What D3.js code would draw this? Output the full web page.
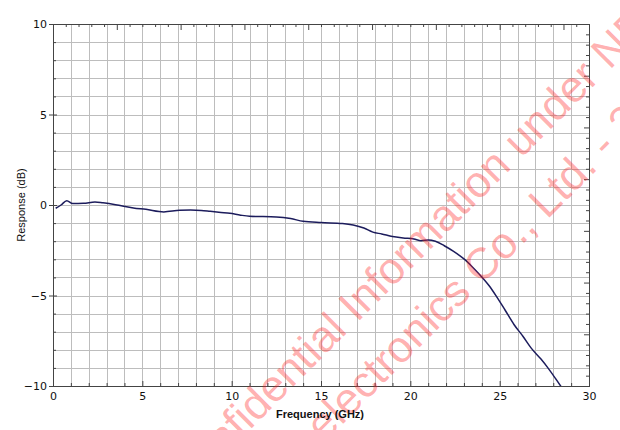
<!DOCTYPE html>
<html>
<head>
<meta charset="utf-8">
<script src="https://cdn.jsdelivr.net/npm/d3@7"></script>
<style>
  body { margin: 0; background: #fff; }
  svg { display: block; }
  .tick text { font-family: "DejaVu Sans", Verdana, sans-serif; font-size: 11px; fill: #111; }
</style>
</head>
<body>
<div id="chart"></div>
<script>
// frequency points (GHz)
const freqGHz = [0.15, 0.45, 0.77, 1.1, 1.7, 2.35, 2.8, 3.5, 4.5, 5.2, 6.2, 7.1, 7.7,
  8.3, 8.8, 9.4, 9.9, 10.5, 11.0, 12.5, 13.3, 14.0, 15.0, 16.2, 16.8, 17.4, 17.9,
  18.4, 19.0, 19.6, 20.2, 20.6, 21.0, 21.4, 21.9, 22.4, 23.0, 23.5, 23.9, 24.4,
  24.8, 25.3, 25.8, 26.3, 26.8, 27.3, 27.7, 28.1, 28.45];
// response at each frequency (dB)
const responseDb = [-0.18, 0.0, 0.24, 0.08, 0.09, 0.17, 0.12, 0.02, -0.16, -0.24, -0.38, -0.29, -0.28,
  -0.3, -0.35, -0.41, -0.46, -0.56, -0.62, -0.66, -0.75, -0.9, -0.97, -1.02, -1.1, -1.27, -1.5,
  -1.6, -1.74, -1.82, -1.88, -1.97, -1.93, -2.0, -2.25, -2.55, -2.98, -3.45, -3.87, -4.45,
  -5.02, -5.8, -6.6, -7.25, -7.95, -8.5, -9.0, -9.55, -10.05];

const xTicks = [0, 5, 10, 15, 20, 25, 30];
const yTicks = [-10, -5, 0, 5, 10];
const xTitle = "Frequency (GHz)";
const yTitle = "Response (dB)";
// watermark: [text before anchor, text after anchor]
const watermarkLines = [["Confidential ", "Information under NDA"], ["", "electronics Co., Ltd. - 2019"]];

const width = 620, height = 430;
const margin = { top: 24, right: 31, bottom: 44, left: 53 };
const w = width - margin.left - margin.right,
  h = height - margin.top - margin.bottom;

const svg = d3.select("#chart").append("svg")
  .attr("width", width).attr("height", height);

const g = svg.append("g")
  .attr("transform", "translate(" + margin.left + "," + margin.top + ")");

const x = d3.scaleLinear().domain([0, 30]).range([0, w]);
const y = d3.scaleLinear().domain([-10, 10]).range([h, 0]);
// unlabeled scales that only drive the tick marks on the top and right frame
const xTop = d3.scaleLinear().domain([0, 42]).range([0, w]);
const yRight = d3.scaleLinear().domain([0, 35]).range([h, 0]);

g.append("clipPath").attr("id", "clip")
  .append("rect").attr("width", w).attr("height", h);

// grid
g.append("g").selectAll("line")
  .data(d3.range(1, 30))
  .join("line")
  .attr("x1", d => Math.round(x(d)) + 0.5).attr("x2", d => Math.round(x(d)) + 0.5)
  .attr("y1", 0).attr("y2", h)
  .attr("stroke", "#bdbdbd");
g.append("g").selectAll("line")
  .data(d3.range(-9, 10))
  .join("line")
  .attr("y1", d => Math.round(y(d)) + 0.5).attr("y2", d => Math.round(y(d)) + 0.5)
  .attr("x1", 0).attr("x2", w)
  .attr("stroke", "#bdbdbd");

// watermark, each line anchored at a point on the page
const wmAnchors = [[357, 323], [324, 443]];
const wm = svg.append("g");
watermarkLines.forEach((parts, i) => {
  const lg = wm.append("g")
    .attr("transform", "translate(" + wmAnchors[i][0] + "," + wmAnchors[i][1] + ") rotate(-45)");
  lg.selectAll("text")
    .data(parts)
    .join("text")
    .attr("text-anchor", (d, j) => j === 0 ? "end" : "start")
    .attr("xml:space", "preserve")
    .style("white-space", "pre")
    .attr("font-family", "Liberation Sans, Arial, sans-serif")
    .attr("font-size", 44)
    .attr("fill", "#ff2020")
    .attr("fill-opacity", 0.36)
    .text(d => d);
});

// trace
const line = d3.line()
  .x((d, i) => x(freqGHz[i]))
  .y(d => y(d))
  .curve(d3.curveMonotoneX);
g.append("path")
  .datum(responseDb)
  .attr("clip-path", "url(#clip)")
  .attr("fill", "none")
  .attr("stroke", "#1c1c5c")
  .attr("stroke-width", 1.5)
  .attr("d", line);

// frame
g.append("rect").attr("x", 0.5).attr("y", 0.5).attr("width", w).attr("height", h)
  .attr("fill", "none").attr("stroke", "#444");

// bottom axis: inward ticks every GHz, labels every 5
const gx = g.append("g")
  .attr("transform", "translate(0," + h + ")")
  .call(d3.axisBottom(x).tickValues(d3.range(0, 31))
    .tickSize(0).tickPadding(6)
    .tickFormat(d => xTicks.includes(d) ? d : ""));
gx.select(".domain").remove();
gx.selectAll(".tick line").attr("y2", d => d % 5 === 0 ? -5 : -3).attr("stroke", "#444");
gx.selectAll(".tick text").attr("font-size", 12);

// left axis
const gy = g.append("g")
  .call(d3.axisLeft(y).tickValues(d3.range(-10, 11))
    .tickSize(0).tickPadding(6)
    .tickFormat(d => yTicks.includes(d) ? d3.format("")(d).replace("-", "\u2212") : ""));
gy.select(".domain").remove();
gy.selectAll(".tick line")
  .attr("x1", d => d % 5 === 0 ? -4 : 0)
  .attr("x2", d => d % 5 === 0 ? 4 : 3)
  .attr("stroke", "#444");
gy.selectAll(".tick text").attr("font-size", 12);

// top and right tick marks
const gt = g.append("g")
  .call(d3.axisTop(xTop).tickValues(d3.range(0, 43)).tickSize(0).tickFormat(""));
gt.select(".domain").remove();
gt.selectAll(".tick line").attr("y2", d => d % 5 === 0 ? 6 : 3).attr("stroke", "#444");

const gr = g.append("g")
  .attr("transform", "translate(" + w + ",0)")
  .call(d3.axisRight(yRight).tickValues(d3.range(0, 36)).tickSize(0).tickFormat(""));
gr.select(".domain").remove();
gr.selectAll(".tick line").attr("x2", d => d % 5 === 0 ? -5 : -3).attr("stroke", "#444");

// titles
svg.append("text")
  .attr("x", margin.left + w / 2 - 1)
  .attr("y", 418)
  .attr("text-anchor", "middle")
  .attr("font-family", "Liberation Sans, Arial, sans-serif")
  .attr("font-weight", "bold")
  .attr("font-size", 11)
  .attr("fill", "#111")
  .text(xTitle);

svg.append("text")
  .attr("transform", "translate(25," + (margin.top + h / 2) + ") rotate(-90)")
  .attr("text-anchor", "middle")
  .attr("font-family", "Liberation Sans, Arial, sans-serif")
  .attr("font-size", 11)
  .attr("fill", "#111")
  .text(yTitle);
</script>
</body>
</html>
